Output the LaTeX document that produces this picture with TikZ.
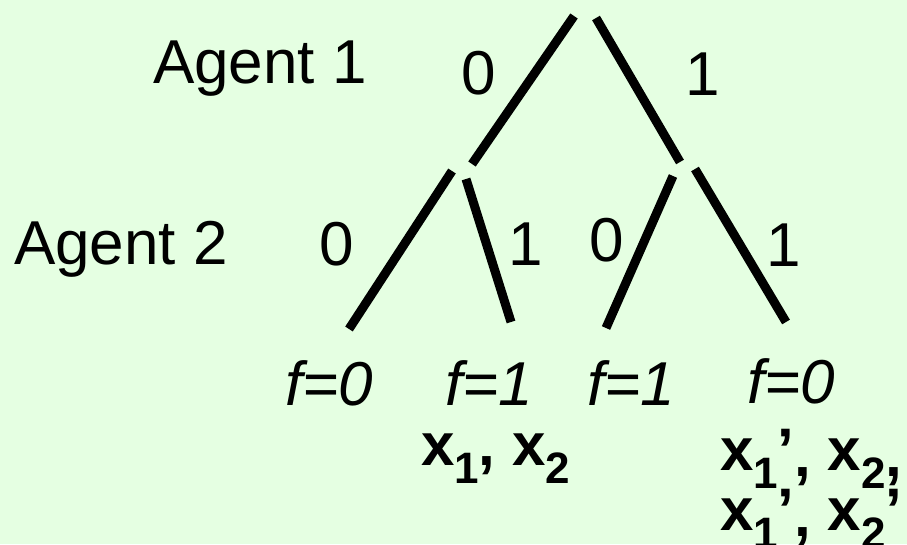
\documentclass[tikz,border=0pt]{standalone}
\usepackage{fontspec}
\setmainfont{Liberation Sans}
\definecolor{bg}{RGB}{229,255,226}
\newcommand{\sbx}[1]{\raisebox{-18pt}{\fontsize{44}{44}\selectfont\bfseries #1}}
\newcommand{\prx}{\raisebox{0pt}{’}}
\newcommand{\cmx}{\raisebox{-6pt}{,}}
\begin{document}
\begin{tikzpicture}[x=1pt,y=-1pt,
  edge/.style={line width=9pt},
  lbl/.style={inner sep=0pt, outer sep=0pt, font=\fontsize{62}{62}\selectfont},
  flbl/.style={inner sep=0pt, outer sep=0pt, anchor=base west, font=\fontsize{62}{62}\selectfont\itshape},
  xlbl/.style={inner sep=0pt, outer sep=0pt, anchor=base west, font=\fontsize{60}{60}\selectfont\bfseries}]
\fill[bg] (0,0) rectangle (907,544);
\useasboundingbox (0,0) rectangle (907,544);
% level 1 edges
\coordinate (l1a) at (574,16);  \coordinate (l1b) at (472,164);
\coordinate (r1a) at (596,18);  \coordinate (r1b) at (680,162);
% level 2 edges
\coordinate (lla) at (452,171); \coordinate (llb) at (349,329);
\coordinate (lra) at (466,179); \coordinate (lrb) at (511,322);
\coordinate (rla) at (673,176); \coordinate (rlb) at (606,328);
\coordinate (rra) at (695,169); \coordinate (rrb) at (786,322);
\draw[edge] (l1a) -- (l1b);
\draw[edge] (r1a) -- (r1b);
\draw[edge] (lla) -- (llb);
\draw[edge] (lra) -- (lrb);
\draw[edge] (rla) -- (rlb);
\draw[edge] (rra) -- (rrb);
% agent labels
\node[lbl, anchor=base west] (ag1) at (153,83) {Agent 1};
\node[lbl, anchor=base west] (ag2) at (14,264) {Agent 2};
% branch labels
\node[lbl, anchor=base] (b0) at (479,94) {0};
\node[lbl, anchor=base] (b1) at (703,95) {1};
\node[lbl, anchor=base] (b00) at (337,265) {0};
\node[lbl, anchor=base] (b01) at (526,265) {1};
\node[lbl, anchor=base] (b10) at (607,261) {0};
\node[lbl, anchor=base] (b11) at (784,266) {1};
% leaf values
\node[flbl] (f00) at (285,405) {f=0};
\node[flbl] (f01) at (445,405) {f=1};
\node[flbl] (f10) at (587,405) {f=1};
\node[flbl] (f11) at (747,403) {f=0};
% inputs
\node[xlbl] (x01) at (421,465) {x\sbx{1}, x\sbx{2}};
\node[xlbl] (x11a) at (720,470) {x\sbx{1}\prx\cmx{} x\sbx{2}\cmx};
\node[xlbl] (x11b) at (720,530) {x\sbx{1}\prx\cmx{} x\sbx{2}\prx};
\end{tikzpicture}
\end{document}
